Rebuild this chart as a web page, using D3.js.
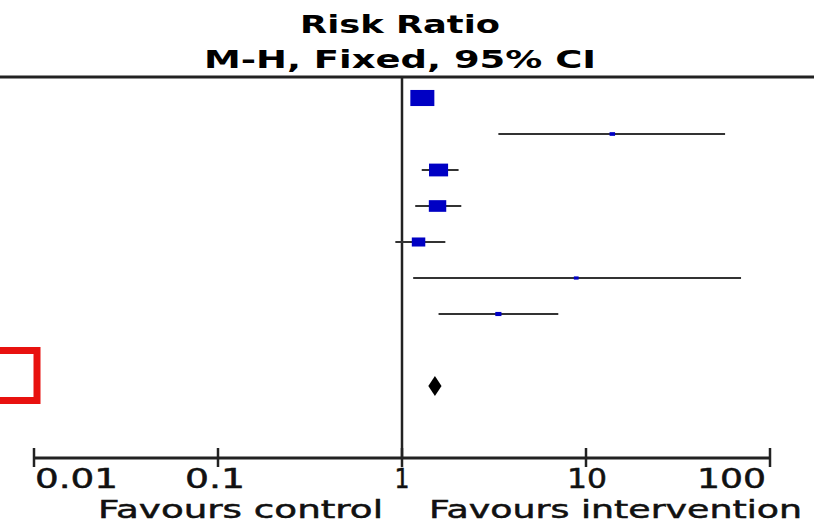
<!DOCTYPE html>
<html>
<head>
<meta charset="utf-8">
<script src="https://cdn.jsdelivr.net/npm/d3@7"></script>
<style>
  body { margin: 0; background: #fff; }
  svg { display: block; font-family: "DejaVu Sans", sans-serif; }
  .plain { stroke: #111; stroke-width: 0.5; }
</style>
</head>
<body>
<div id="chart"></div>
<script>
// Study rows (names are cut off in the reference, so they are not drawn)
const studies = ["Study 1", "Study 2", "Study 3", "Study 4", "Study 5", "Study 6", "Study 7"];
const riskRatios = [1.29, 13.9, 1.58, 1.56, 1.23, 8.85, 3.34];
const ciLower = [1.18, 3.34, 1.28, 1.18, 0.92, 1.15, 1.58];
const ciUpper = [1.42, 57, 2.03, 2.1, 1.72, 69.6, 7.07];
const weights = [38, 2, 24, 20, 12, 1.5, 2.5];

// Pooled estimate
const totalRR = 1.51;
const totalLower = 1.39;
const totalUpper = 1.64;

const tickValues = [0.01, 0.1, 1, 10, 100];
const tickLabels = ["0.01", "0.1", "1", "10", "100"];

class ForestPlot {
  constructor(_config) {
    this.config = {
      parentElement: _config.parentElement,
      width: _config.width || 814,
      height: _config.height || 523,
      blue: "#0000c4",
      ink: "#222",
    };
    this.initVis();
  }

  initVis() {
    const vis = this;

    vis.svg = d3
      .select(vis.config.parentElement)
      .append("svg")
      .attr("width", vis.config.width)
      .attr("height", vis.config.height);

    vis.x = d3.scaleLog().domain([0.01, 100]).range([34, 770]);

    // rows are evenly spaced; the total sits two rows below the last study
    vis.y = d3.scaleLinear().domain([0, 8]).range([98, 386]);

    vis.size = d3.scaleSqrt().domain([0, 38]).range([0, 24]);

    this.updateVis();
  }

  updateVis() {
    const vis = this;
    const axisY = 458;

    // Header
    vis.svg
      .append("text")
      .attr("x", 400)
      .attr("y", 33)
      .attr("text-anchor", "middle")
      .attr("font-size", 25)
      .attr("font-weight", "bold")
      .attr("textLength", 200)
      .attr("lengthAdjust", "spacingAndGlyphs")
      .text("Risk Ratio");
    vis.svg
      .append("text")
      .attr("x", 400)
      .attr("y", 68)
      .attr("text-anchor", "middle")
      .attr("font-size", 25)
      .attr("font-weight", "bold")
      .attr("textLength", 392)
      .attr("lengthAdjust", "spacingAndGlyphs")
      .text("M-H, Fixed, 95% CI");

    vis.svg
      .append("line")
      .attr("x1", 0)
      .attr("x2", vis.config.width)
      .attr("y1", 77)
      .attr("y2", 77)
      .attr("stroke", vis.config.ink)
      .attr("stroke-width", 3);

    // Line of no effect
    vis.svg
      .append("line")
      .attr("x1", vis.x(1))
      .attr("x2", vis.x(1))
      .attr("y1", 77)
      .attr("y2", axisY)
      .attr("stroke", vis.config.ink)
      .attr("stroke-width", 2.5);

    const rows = studies.map((s, i) => ({
      name: s,
      rr: riskRatios[i],
      lo: ciLower[i],
      hi: ciUpper[i],
      w: weights[i],
      index: i,
    }));

    // Confidence intervals
    vis.svg
      .selectAll("line.ci")
      .data(rows)
      .join("line")
      .attr("class", "ci")
      .attr("x1", (d) => vis.x(d.lo))
      .attr("x2", (d) => vis.x(d.hi))
      .attr("y1", (d) => vis.y(d.index))
      .attr("y2", (d) => vis.y(d.index))
      .attr("stroke", "#333")
      .attr("stroke-width", 2);

    // Weight boxes (the reference is stretched sideways, so boxes are wider than tall)
    vis.svg
      .selectAll("rect.box")
      .data(rows)
      .join("rect")
      .attr("class", "box")
      .attr("x", (d) => vis.x(d.rr) - vis.size(d.w) / 2)
      .attr("y", (d) => vis.y(d.index) - (vis.size(d.w) * 0.67) / 2)
      .attr("width", (d) => vis.size(d.w))
      .attr("height", (d) => vis.size(d.w) * 0.67)
      .attr("fill", vis.config.blue);

    // Pooled diamond
    const ty = vis.y(8);
    vis.svg
      .append("path")
      .attr(
        "d",
        `M${vis.x(totalLower)},${ty} L${vis.x(totalRR)},${ty - 10} L${vis.x(totalUpper)},${ty} L${vis.x(totalRR)},${ty + 10} Z`
      )
      .attr("fill", "#000");

    // Axis
    const axis = vis.svg.append("g");
    axis
      .append("line")
      .attr("x1", vis.x(0.01))
      .attr("x2", vis.x(100))
      .attr("y1", axisY)
      .attr("y2", axisY)
      .attr("stroke", vis.config.ink)
      .attr("stroke-width", 3);
    axis
      .selectAll("line.tick")
      .data(tickValues)
      .join("line")
      .attr("class", "tick")
      .attr("x1", (d) => vis.x(d))
      .attr("x2", (d) => vis.x(d))
      .attr("y1", axisY - 10)
      .attr("y2", axisY + 9)
      .attr("stroke", vis.config.ink)
      .attr("stroke-width", 2.5);

    const anchors = ["start", "middle", "middle", "middle", "end"];
    const labelWidths = [83, 60, 15, 40, 69];
    const nudge = [1, -3, 0, 1, -4];
    axis
      .selectAll("text.tickLabel")
      .data(tickValues)
      .join("text")
      .attr("class", "tickLabel plain")
      .attr("x", (d, i) => vis.x(d) + nudge[i])
      .attr("y", 488)
      .attr("text-anchor", (d, i) => anchors[i])
      .attr("font-size", 27)
      .attr("fill", "#111")
      .attr("textLength", (d, i) => labelWidths[i])
      .attr("lengthAdjust", "spacingAndGlyphs")
      .text((d, i) => tickLabels[i]);

    vis.svg
      .append("text")
      .attr("class", "plain")
      .attr("x", 98)
      .attr("y", 518)
      .attr("font-size", 25)
      .attr("fill", "#111")
      .attr("textLength", 285)
      .attr("lengthAdjust", "spacingAndGlyphs")
      .text("Favours control");
    vis.svg
      .append("text")
      .attr("class", "plain")
      .attr("x", 429)
      .attr("y", 518)
      .attr("font-size", 25)
      .attr("fill", "#111")
      .attr("textLength", 373)
      .attr("lengthAdjust", "spacingAndGlyphs")
      .text("Favours intervention");

    // Red highlight box at the left edge, partly cut off
    vis.svg
      .append("rect")
      .attr("x", -10)
      .attr("y", 350.5)
      .attr("width", 47)
      .attr("height", 50)
      .attr("fill", "none")
      .attr("stroke", "#e8110f")
      .attr("stroke-width", 7);
  }
}

new ForestPlot({ parentElement: "#chart" });
</script>
</body>
</html>
